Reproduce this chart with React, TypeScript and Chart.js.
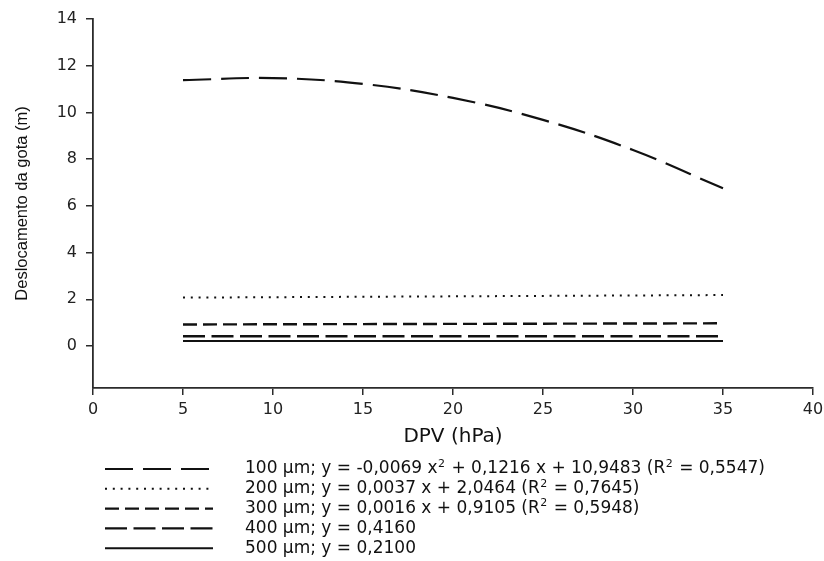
import React, { useEffect, useRef } from 'react';
import { Chart, registerables } from 'chart.js';

Chart.register(...registerables);

// ---- data ----
const dpvCurve = [5, 10, 15, 20, 25, 30, 35];
const d100 = [11.38, 11.47, 11.22, 10.62, 9.68, 8.39, 6.75];
const dpvLine = [5, 35];
const d200 = [2.07, 2.18];
const d300 = [0.92, 0.97];
const d400 = [0.416, 0.416];
const d500 = [0.21, 0.21];

const seriesLabels = [
  '100 µm; y = -0,0069 x² + 0,1216 x + 10,9483 (R² = 0,5547)',
  '200 µm; y = 0,0037 x + 2,0464 (R² = 0,7645)',
  '300 µm; y = 0,0016 x + 0,9105 (R² = 0,5948)',
  '400 µm; y = 0,4160',
  '500 µm; y = 0,2100',
];

const xTitle = 'DPV (hPa)';
const yTitle = 'Deslocamento da gota (m)';
const xMin = 0;
const xMax = 40;
const xStep = 5;
const yMin = -1.8;
const yMax = 14;
const yStep = 2;

const pts = (xs: number[], ys: number[]) => xs.map((x, i) => ({ x, y: ys[i] }));

const TICK_FONT = 'DejaVu Sans';
const INK = '#111';
const AXIS = '#2b2b2b';

const legendPlugin = {
  id: 'customLegend',
  afterDraw(chart: any) {
    const ctx = chart.ctx;
    const sets = chart.data.datasets;
    const x0 = 105;
    const x1 = 213;
    const tx = 245;
    const y0 = 469;
    const dy = 19.8;
    ctx.save();
    sets.forEach((ds: any, i: number) => {
      const y = y0 + i * dy;
      ctx.beginPath();
      ctx.setLineDash(ds.borderDash || []);
      ctx.lineWidth = ds.borderWidth;
      ctx.strokeStyle = ds.borderColor;
      ctx.lineCap = 'butt';
      ctx.moveTo(x0, y);
      ctx.lineTo(x1, y);
      ctx.stroke();
      ctx.setLineDash([]);
      // text with superscripts
      const parts = String(ds.label).split('²');
      let x = tx;
      ctx.fillStyle = INK;
      ctx.textBaseline = 'middle';
      ctx.textAlign = 'left';
      parts.forEach((p: string, k: number) => {
        ctx.font = `17px "${TICK_FONT}"`;
        ctx.fillText(p, x, y);
        x += ctx.measureText(p).width;
        if (k < parts.length - 1) {
          ctx.font = `11px "${TICK_FONT}"`;
          ctx.fillText('2', x + 0.5, y - 5);
          x += ctx.measureText('2').width + 1.5;
        }
      });
    });
    ctx.restore();
  },
};

export default function App() {
  const ref = useRef<HTMLCanvasElement | null>(null);

  useEffect(() => {
    if (!ref.current) return;
    const common = { pointRadius: 0, borderColor: INK, fill: false };
    const chart = new Chart(ref.current, {
      type: 'line',
      data: {
        datasets: [
          { ...common, label: seriesLabels[0], data: pts(dpvCurve, d100), borderWidth: 2.2, borderDash: [28, 10], tension: 0.4 },
          { ...common, label: seriesLabels[1], data: pts(dpvLine, d200), borderWidth: 2, borderDash: [2, 5.8] },
          { ...common, label: seriesLabels[2], data: pts(dpvLine, d300), borderWidth: 2.4, borderDash: [14, 6] },
          { ...common, label: seriesLabels[3], data: pts(dpvLine, d400), borderWidth: 2.4, borderDash: [22, 6.5] },
          { ...common, label: seriesLabels[4], data: pts(dpvLine, d500), borderWidth: 2 },
        ],
      },
      options: {
        animation: false,
        responsive: true,
        maintainAspectRatio: false,
        layout: { padding: { left: 7, top: 19, right: 11, bottom: 106 } },
        plugins: { legend: { display: false }, tooltip: { enabled: false } },
        scales: {
          x: {
            type: 'linear',
            min: xMin,
            max: xMax,
            ticks: { stepSize: xStep, color: '#222', font: { family: TICK_FONT, size: 16 }, padding: 5, maxRotation: 0 },
            grid: { drawOnChartArea: false, drawTicks: true, tickLength: 7, color: AXIS, lineWidth: 1.5 },
            border: { display: true, color: AXIS, width: 1.8 },
            title: { display: true, text: xTitle, color: '#111', font: { family: TICK_FONT, size: 20 }, padding: { top: 4, bottom: 6 } },
            afterFit: (s: any) => { s.height = 67; s.paddingRight = 0; s.paddingLeft = 0; },
          },
          y: {
            type: 'linear',
            min: yMin,
            max: yMax,
            ticks: { stepSize: yStep, color: '#222', font: { family: TICK_FONT, size: 16 }, padding: 9 },
            afterBuildTicks: (s: any) => { s.ticks = s.ticks.filter((t: any) => t.value >= 0); },
            grid: { drawOnChartArea: false, drawTicks: true, tickLength: 7, color: AXIS, lineWidth: 1.5 },
            border: { display: true, color: AXIS, width: 1.8 },
            title: { display: true, text: yTitle, color: '#111', font: { family: 'Liberation Sans', size: 16.5 }, padding: { top: 6, bottom: 0 } },
            afterFit: (s: any) => { s.width = 86; s.paddingTop = 0; s.paddingBottom = 0; },
          },
        },
      },
      plugins: [legendPlugin],
    } as any);
    return () => chart.destroy();
  }, []);

  return (
    <div style={{ position: 'absolute', left: 0, top: 0, width: 824, height: 561, background: '#fff' }}>
      <canvas ref={ref} />
    </div>
  );
}
